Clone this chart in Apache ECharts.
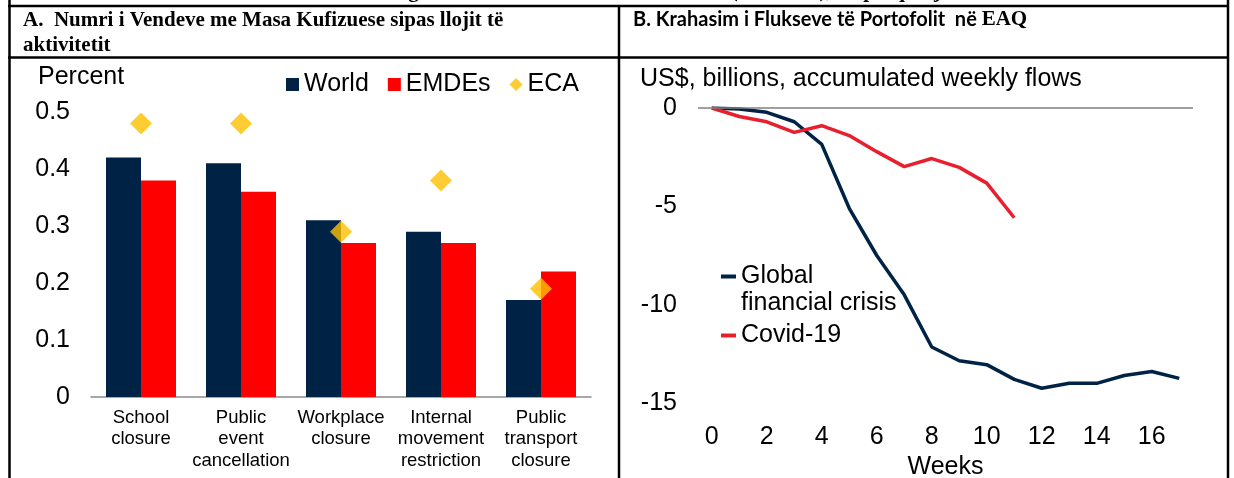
<!DOCTYPE html>
<html>
<head>
<meta charset="utf-8">
<script src="https://cdn.jsdelivr.net/npm/echarts@6/dist/echarts.min.js"></script>
<style>
  html, body { margin: 0; padding: 0; background: #fff; }
  #chart { width: 1234px; height: 478px; }
</style>
</head>
<body>
<div id="chart"></div>
<script>
// Panel A: share of countries with restrictions, by type of activity
var categoriesA = ['School\nclosure', 'Public\nevent\ncancellation', 'Workplace\nclosure', 'Internal\nmovement\nrestriction', 'Public\ntransport\nclosure'];
var worldValues = [0.42, 0.41, 0.31, 0.29, 0.17];
var emdeValues = [0.38, 0.36, 0.27, 0.27, 0.22];
var ecaValues = [0.48, 0.48, 0.29, 0.38, 0.19];

// Panel B: accumulated weekly portfolio flows to ECA
var weeks = ['0', '1', '2', '3', '4', '5', '6', '7', '8', '9', '10', '11', '12', '13', '14', '15', '16', '17'];
var gfcFlows = [0, -0.05, -0.22, -0.7, -1.85, -5.1, -7.5, -9.5, -12.15, -12.85, -13.05, -13.8, -14.25, -14.0, -14.0, -13.6, -13.4, -13.75];
var covidFlows = [0, -0.43, -0.7, -1.24, -0.9, -1.4, -2.22, -2.98, -2.57, -3.02, -3.82, -5.58];

var NAVY = '#002345';
var RED = '#FF0000';
var GOLD = '#FFC000';
var CRIMSON = '#E8202E';
var FONT = 'Liberation Sans, Arial, sans-serif';
var SERIF = 'Liberation Serif, Times New Roman, serif';

var myChart = echarts.init(document.getElementById('chart'));

var option = {
    animation: false,
    backgroundColor: '#fff',
    textStyle: { fontFamily: FONT, color: '#000' },
    graphic: [
        // table borders
        { type: 'line', silent: true, shape: { x1: 8, y1: 6, x2: 1229, y2: 6 }, style: { stroke: '#000', lineWidth: 2.5 } },
        { type: 'line', silent: true, shape: { x1: 8, y1: 57.5, x2: 1229, y2: 57.5 }, style: { stroke: '#000', lineWidth: 2.5 } },
        { type: 'line', silent: true, shape: { x1: 9.5, y1: 0, x2: 9.5, y2: 478 }, style: { stroke: '#000', lineWidth: 2.5 } },
        { type: 'line', silent: true, shape: { x1: 619, y1: 6, x2: 619, y2: 478 }, style: { stroke: '#000', lineWidth: 2.5 } },
        { type: 'line', silent: true, shape: { x1: 1228, y1: 0, x2: 1228, y2: 478 }, style: { stroke: '#000', lineWidth: 2.5 } },
        // figure title, cut at the top
        { type: 'text', silent: true, x: 670, y: 2, style: { text: 'Figura 1. Masat kufizuese dhe flukset (Covid-19), në përqindje', fontFamily: SERIF, fontWeight: 'bold', fontSize: 21, fill: '#000', align: 'center', verticalAlign: 'bottom' } },
        // panel headers
        { type: 'text', silent: true, x: 23, y: 7.5, style: { text: 'A.  Numri i Vendeve me Masa Kufizuese sipas llojit të\naktivitetit', fontFamily: SERIF, fontWeight: 'bold', fontSize: 21, lineHeight: 25.5, fill: '#000', align: 'left', verticalAlign: 'top' } },
        {
            type: 'text', silent: true, x: 633, y: 20,
            style: {
                text: '{a|B. Krahasim i Flukseve të Portofolit  në }{b|EAQ}',
                align: 'left', verticalAlign: 'middle', fill: '#000',
                rich: {
                    a: { fontFamily: 'Lato, Open Sans, sans-serif', fontWeight: 'bold', fontSize: 20, fill: '#000' },
                    b: { fontFamily: SERIF, fontWeight: 'bold', fontSize: 21, fill: '#000' }
                }
            }
        },
        // axis units
        { type: 'text', silent: true, x: 38, y: 77, style: { text: 'Percent', fontFamily: FONT, fontSize: 25, fill: '#000', align: 'left', verticalAlign: 'middle' } },
        { type: 'text', silent: true, x: 640, y: 79, style: { text: 'US$, billions, accumulated weekly flows', fontFamily: FONT, fontSize: 25, fill: '#000', align: 'left', verticalAlign: 'middle' } }
    ],
    legend: [
        {
            left: 286, top: 72, padding: 0,
            itemWidth: 13, itemHeight: 13, itemGap: 19,
            textStyle: { fontFamily: FONT, fontSize: 25, color: '#000' },
            data: [
                { name: 'World', icon: 'rect' },
                { name: 'EMDEs', icon: 'rect' },
                { name: 'ECA', icon: 'diamond' }
            ]
        },
        {
            orient: 'vertical', left: 721, top: 236, padding: 0,
            itemWidth: 15, itemHeight: 4, itemGap: 5, icon: 'rect',
            textStyle: { fontFamily: FONT, fontSize: 25, lineHeight: 27, color: '#000' },
            formatter: function (name) {
                // blank first line keeps the icon level with "Global"
                return name == 'Global financial crisis' ? '\u00a0\nGlobal\nfinancial crisis' : name;
            },
            data: ['Global financial crisis', 'Covid-19']
        }
    ],
    grid: [
        { left: 91, top: 112, width: 500, height: 285, outerBoundsMode: 'none' },
        { left: 698, top: 108, width: 495, height: 295, outerBoundsMode: 'none' }
    ],
    xAxis: [
        {
            gridIndex: 0, type: 'category', data: categoriesA,
            axisLine: { lineStyle: { color: '#8c8c8c', width: 1.5 } },
            axisTick: { show: false },
            axisLabel: { fontFamily: FONT, fontSize: 18.5, lineHeight: 21.5, color: '#000', margin: 10, interval: 0 }
        },
        {
            gridIndex: 1, type: 'category', data: weeks, boundaryGap: true,
            axisLine: { show: false },
            axisTick: { show: false },
            axisLabel: { fontFamily: FONT, fontSize: 25, color: '#000', margin: 22, interval: 1 },
            name: 'Weeks', nameLocation: 'middle', nameGap: 47,
            nameTextStyle: { fontFamily: FONT, fontSize: 25, color: '#000' }
        }
    ],
    yAxis: [
        {
            gridIndex: 0, type: 'value', min: 0, max: 0.5, interval: 0.1,
            axisLine: { show: false }, axisTick: { show: false }, splitLine: { show: false },
            axisLabel: { fontFamily: FONT, fontSize: 25, color: '#000', margin: 21 }
        },
        {
            gridIndex: 1, type: 'value', min: -15, max: 0, interval: 5,
            axisLine: { show: false }, axisTick: { show: false }, splitLine: { show: false },
            axisLabel: { fontFamily: FONT, fontSize: 25, color: '#000', margin: 21 }
        }
    ],
    series: [
        {
            name: 'World', type: 'bar', xAxisIndex: 0, yAxisIndex: 0,
            data: worldValues, barWidth: 35, barGap: '0%',
            itemStyle: { color: NAVY }
        },
        {
            name: 'EMDEs', type: 'bar', xAxisIndex: 0, yAxisIndex: 0,
            data: emdeValues, barWidth: 35, barGap: '0%',
            itemStyle: { color: RED }
        },
        {
            name: 'ECA', type: 'scatter', xAxisIndex: 0, yAxisIndex: 0,
            data: ecaValues, symbol: 'diamond', symbolSize: 22, z: 5,
            itemStyle: { color: GOLD }
        },
        {
            name: 'Global financial crisis', type: 'line', xAxisIndex: 1, yAxisIndex: 1,
            data: gfcFlows, showSymbol: false, symbol: 'none',
            lineStyle: { color: NAVY, width: 3.5 }, itemStyle: { color: NAVY },
            markLine: {
                silent: true, symbol: 'none', label: { show: false },
                lineStyle: { color: '#808080', width: 1.5, type: 'solid' },
                data: [{ yAxis: 0 }]
            }
        },
        {
            name: 'Covid-19', type: 'line', xAxisIndex: 1, yAxisIndex: 1,
            data: covidFlows, showSymbol: false, symbol: 'none',
            lineStyle: { color: CRIMSON, width: 3.5 }, itemStyle: { color: CRIMSON }
        }
    ]
};

myChart.setOption(option);
</script>
</body>
</html>
